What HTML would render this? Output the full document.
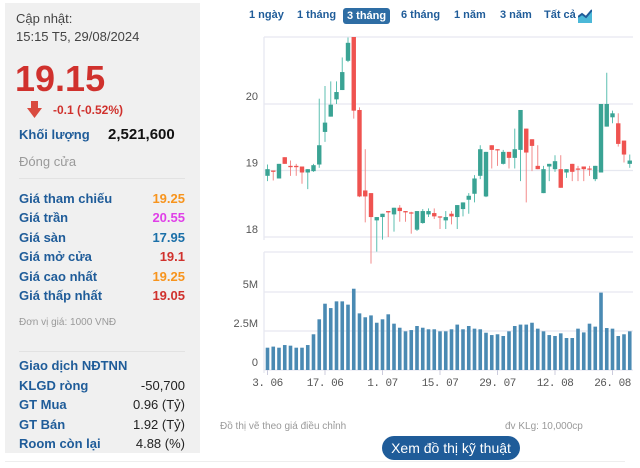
<!DOCTYPE html>
<html><head><meta charset="utf-8">
<style>
body{margin:0;width:640px;height:468px;background:#fff;font-family:"Liberation Sans",sans-serif;position:relative;overflow:hidden}
.a{position:absolute;white-space:nowrap}
#left{position:absolute;left:5px;top:3px;width:195px;height:450px;background:#f0f0f0}
.lb{position:absolute;left:19px;color:#1f5c99;font-weight:bold;font-size:13px}
.vl{position:absolute;right:455px;font-weight:bold;font-size:13px;text-align:right}
.btn{position:absolute;top:9px;font-size:11px;font-weight:bold;color:#1f5c99}
</style></head><body>
<div id="left"></div>
<div class="a" style="left:16px;top:11px;font-size:13px;color:#444">Cập nhật:</div>
<div class="a" style="left:16px;top:29px;font-size:13px;color:#444">15:15 T5, 29/08/2024</div>
<div class="a" style="left:15px;top:58px;font-size:36px;font-weight:bold;color:#d0312d">19.15</div>
<svg class="a" style="left:27px;top:101px" width="16" height="18"><rect x="4" y="0" width="7" height="8" fill="#d94b3f"/><polygon points="0,7 15,7 7.5,17" fill="#d94b3f"/></svg>
<div class="a" style="left:53px;top:103px;font-size:12px;font-weight:bold;color:#d0312d">-0.1 (-0.52%)</div>
<div class="lb" style="top:127px;font-size:13px">Khối lượng</div>
<div class="a" style="left:108px;top:126px;font-size:15px;font-weight:bold;color:#111">2,521,600</div>
<div class="a" style="left:19px;top:154px;font-size:13px;color:#999">Đóng cửa</div>
<div class="a" style="left:19px;top:178px;width:166px;height:1px;background:#e2e2e2"></div>
<div class="lb" style="top:191px">Giá tham chiếu</div><div class="vl" style="top:191px;color:#f7941d">19.25</div>
<div class="lb" style="top:210px">Giá trần</div><div class="vl" style="top:210px;color:#e040e8">20.55</div>
<div class="lb" style="top:230px">Giá sàn</div><div class="vl" style="top:230px;color:#1a6fa8">17.95</div>
<div class="lb" style="top:249px">Giá mở cửa</div><div class="vl" style="top:249px;color:#d0312d">19.1</div>
<div class="lb" style="top:269px">Giá cao nhất</div><div class="vl" style="top:269px;color:#f7941d">19.25</div>
<div class="lb" style="top:288px">Giá thấp nhất</div><div class="vl" style="top:288px;color:#d0312d">19.05</div>
<div class="a" style="left:19px;top:317px;font-size:10px;color:#999">Đơn vị giá: 1000 VNĐ</div>
<div class="a" style="left:19px;top:351px;width:166px;height:1px;background:#e2e2e2"></div>
<div class="lb" style="top:358px">Giao dịch NĐTNN</div>
<div class="lb" style="top:378px">KLGD ròng</div><div class="vl" style="top:378px;color:#222;font-weight:normal">-50,700</div>
<div class="lb" style="top:397px">GT Mua</div><div class="vl" style="top:397px;color:#222;font-weight:normal">0.96 (Tỷ)</div>
<div class="lb" style="top:417px">GT Bán</div><div class="vl" style="top:417px;color:#222;font-weight:normal">1.92 (Tỷ)</div>
<div class="lb" style="top:436px">Room còn lại</div><div class="vl" style="top:436px;color:#222;font-weight:normal">4.88 (%)</div>

<div class="btn" style="left:249px">1 ngày</div>
<div class="btn" style="left:297px">1 tháng</div>
<div class="btn" style="left:343px;top:8px;padding:2px 4px;background:#2e6da4;color:#fff;border-radius:3px">3 tháng</div>
<div class="btn" style="left:401px">6 tháng</div>
<div class="btn" style="left:454px">1 năm</div>
<div class="btn" style="left:500px">3 năm</div>
<div class="btn" style="left:544px">Tất cả</div>
<svg class="a" style="left:578px;top:9px" width="14" height="14"><polygon points="0,14 0,8 4,5 8,8 14,1 14,14" fill="#4bb8d8"/><polyline points="0,8 4,5 8,8 14,1" stroke="#1f5c99" stroke-width="2" fill="none"/></svg>

<svg id="chart" class="a" style="left:0;top:0" width="640" height="400"></svg>

<div class="a" style="left:220px;top:421px;font-size:10px;color:#999">Đồ thị vẽ theo giá điều chỉnh</div>
<div class="a" style="left:505px;top:421px;font-size:10px;color:#999">đv KLg: 10,000cp</div>
<div class="a" style="left:382px;top:436px;width:138px;height:24px;line-height:24px;text-align:center;background:#1f5c99;color:#fff;font-size:14px;border-radius:12px">Xem đồ thị kỹ thuật</div>
<div class="a" style="left:5px;top:461px;width:620px;height:1px;background:#eee"></div>

<script>
const opens=[18.92,19.0,18.88,19.2,19.07,19.07,19.06,18.97,18.99,19.09,19.58,19.81,20.07,20.21,20.65,21.05,19.91,18.7,18.66,18.25,18.3,18.39,18.34,18.44,18.39,18.37,18.11,18.21,18.34,18.36,18.31,18.25,18.35,18.3,18.42,18.56,18.65,18.92,18.61,19.38,19.32,19.1,19.28,19.19,19.31,19.63,19.47,19.07,18.66,19.06,19.02,19.02,18.97,19.1,19.03,19.06,19.03,18.87,18.97,19.66,19.8,19.71,19.45,19.1];
const closes=[19.02,18.98,19.1,19.1,19.05,19.05,18.97,19.02,19.08,19.38,19.72,19.99,20.18,20.48,20.92,19.9,18.61,18.61,18.3,18.3,18.35,18.37,18.44,18.39,18.37,18.36,18.39,18.39,18.39,18.31,18.30,18.3,18.31,18.48,18.52,18.62,18.88,19.32,19.28,19.31,19.31,19.28,19.19,19.32,19.91,19.27,19.37,19.02,19.02,19.1,19.14,18.74,19.02,18.98,19.02,19.02,19.02,19.07,20.0,20.0,19.86,19.4,19.24,19.15];
const highs=[19.09,19.0,19.1,19.2,19.15,19.1,19.06,19.02,19.1,20.08,20.27,20.34,20.34,20.7,21.0,21.1,19.95,19.32,18.66,18.3,18.35,18.39,18.44,18.48,18.39,18.38,18.39,18.42,18.43,18.43,18.31,18.39,18.39,18.48,18.52,18.66,18.93,19.38,19.28,19.38,19.32,19.31,19.28,19.63,19.91,19.63,19.47,19.38,19.07,19.1,19.23,19.23,19.02,19.1,19.07,19.06,19.07,19.07,20.0,20.47,19.9,19.86,19.45,19.24];
const lows=[18.84,18.85,18.88,19.1,18.92,18.92,18.8,18.72,18.98,19.04,19.43,19.81,20.0,20.21,20.63,19.78,18.6,18.22,17.6,17.78,17.96,18.0,18.08,18.23,18.23,18.05,18.09,18.2,18.3,18.27,18.12,18.12,18.19,18.12,18.31,18.35,18.52,18.87,18.6,19.03,19.07,19.09,19.03,19.03,18.84,18.52,18.99,19.02,18.66,18.84,18.98,18.74,18.89,18.84,18.84,18.84,18.92,18.84,18.97,19.66,19.71,19.36,19.12,19.04];
const volumes=[1.43,1.5,1.43,1.6,1.56,1.43,1.43,1.6,2.29,3.25,4.25,3.97,4.4,4.4,4.19,5.21,3.63,3.38,3.5,3.03,3.25,3.57,2.97,2.71,2.48,2.56,2.82,2.71,2.61,2.61,2.48,2.48,2.61,2.91,2.61,2.82,2.65,2.61,2.39,2.24,2.29,2.18,2.48,2.82,2.91,2.91,3.03,2.65,2.48,2.24,2.18,2.35,2.05,2.05,2.65,2.41,2.97,2.78,4.96,2.69,2.65,2.18,2.29,2.48];
const dateLabels=["3. 06","17. 06","1. 07","15. 07","29. 07","12. 08","26. 08"];
const dateIndex=[0,10,20,30,40,50,60];
const priceTicks=[18,19,20];
const volTicks=[0,2.5,5];
const volTickLabels=["0","2.5M","5M"];

const NS="http://www.w3.org/2000/svg";
const svg=document.getElementById('chart');
function el(t,a,p){const e=document.createElementNS(NS,t);for(const k in a)e.setAttribute(k,a[k]);(p||svg).appendChild(e);return e;}
const X0=264,X1=633,step=5.75,first=267.5;
const xAt=i=>first+i*step;
const yP=p=>104+(20-p)*66.5;
const yV=v=>370-v*15.6;

let f=el('line',{x1:X0,y1:37,x2:X1,y2:37,stroke:'#e6e8f0','stroke-width':1.3});

let f1=el('line',{x1:X0,y1:37,x2:X0,y2:240,stroke:'#e6e8f0','stroke-width':1.3});

let f2=el('line',{x1:X0,y1:252,x2:X1,y2:252,stroke:'#e6e8f0','stroke-width':1.3});

let f3=el('line',{x1:X0,y1:252,x2:X0,y2:373,stroke:'#e6e8f0','stroke-width':1.3});

priceTicks.forEach(t=>{
  const g=el('line',{x1:X0,y1:yP(t),x2:X1,y2:yP(t),stroke:'#e6e8f0','stroke-width':1.3});
  
  const tx=el('text',{x:258,y:yP(t)-4,'text-anchor':'end','font-size':11,fill:'#555','font-family':'Liberation Sans'});
  tx.textContent=t;
});
volTicks.forEach((t,i)=>{
  const g=el('line',{x1:X0,y1:yV(t),x2:X1,y2:yV(t),stroke:'#e6e8f0','stroke-width':1.3});
  
  const tx=el('text',{x:258,y:yV(t)-4,'text-anchor':'end','font-size':11,fill:'#555','font-family':'Liberation Sans'});
  tx.textContent=volTickLabels[i];
});
dateLabels.forEach((d,i)=>{
  const x=xAt(dateIndex[i]);
  const tk=el('line',{x1:x,y1:370,x2:x,y2:375,stroke:'#ccd'});
  
  const tx=el('text',{x:x,y:386,'text-anchor':'middle','font-size':11,fill:'#555','font-family':'Liberation Mono','letter-spacing':'-0.5'});
  tx.textContent=d;
});
const clip=el('clipPath',{id:'pc'});el('rect',{x:X0,y:37,width:X1-X0,height:240},clip);
const cg=el('g',{'clip-path':'url(#pc)'});
opens.forEach((o,i)=>{
  const c=closes[i],up=c>=o,col=up?'#3aa394':'#ef5350',x=xAt(i);
  const w=el('line',{x1:x,y1:yP(highs[i]),x2:x,y2:yP(lows[i]),stroke:up?'#5cbfb0':'#f28b8b','stroke-width':1},cg);
  
  const top=yP(Math.max(o,c)),h=Math.max(1.2,Math.abs(yP(o)-yP(c)));
  const b=el('rect',{x:x-2.2,y:top,width:4.4,height:h,fill:col},cg);
  
});
volumes.forEach((v,i)=>{
  const b=el('rect',{x:xAt(i)-1.8,y:yV(v),width:3.6,height:370-yV(v),fill:'#4a8ab3'});
  
});
</script>
</body></html>
